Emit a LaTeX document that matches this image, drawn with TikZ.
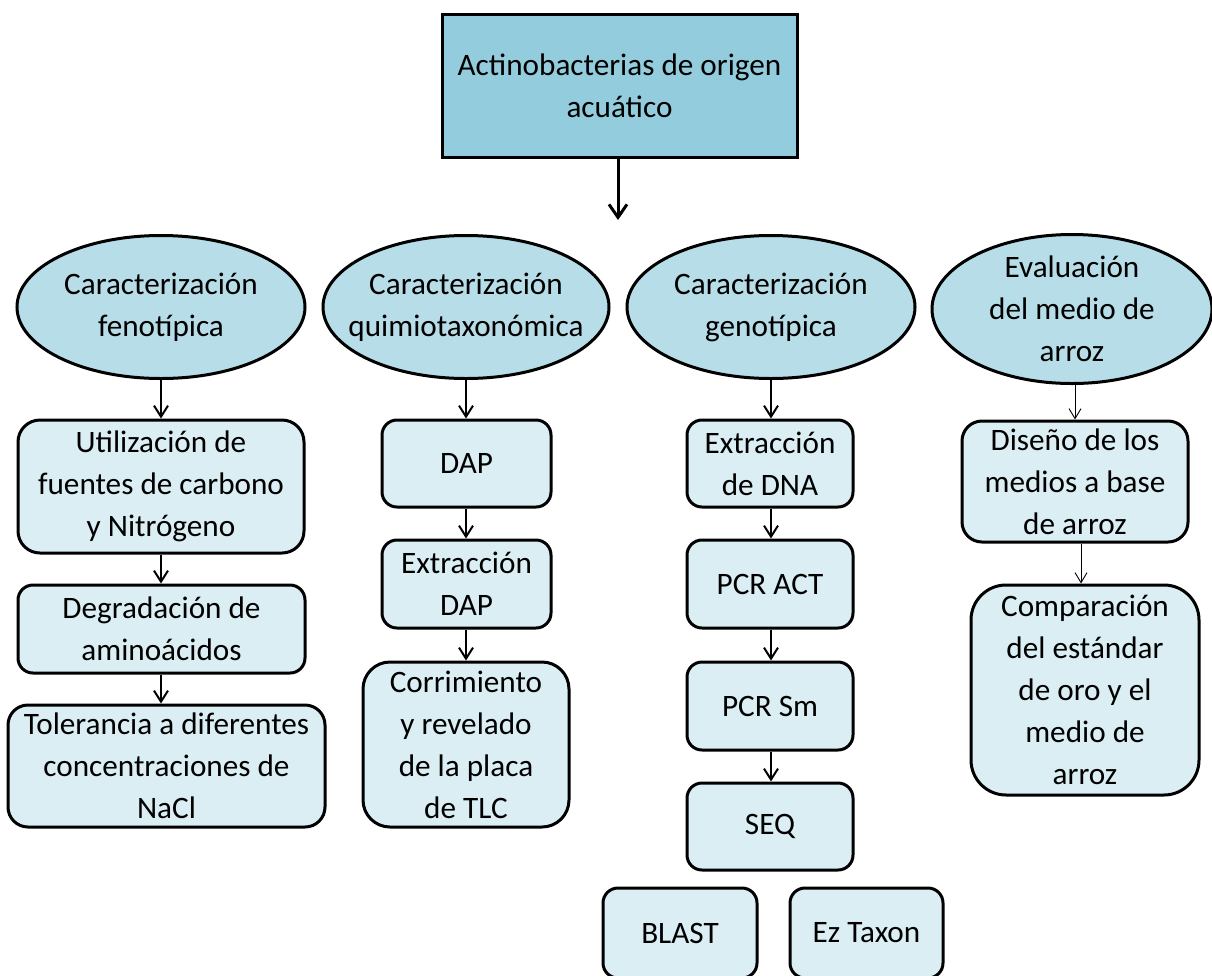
\documentclass[tikz,border=0pt]{standalone}
\usepackage{fontspec}
\setmainfont{Carlito}
\usepackage{tikz}
\usetikzlibrary{arrows.meta,shapes.geometric}
\usepackage{xcolor}
\definecolor{raizazul}{HTML}{93CDDD}
\definecolor{ovaloazul}{HTML}{B7DEE8}
\definecolor{cajaazul}{HTML}{DAEEF3}

\begin{document}
\begin{tikzpicture}[
  x=1pt,y=-1pt,font=\fontsize{31.2}{42}\selectfont,
  raiz/.style={draw=black, line width=3pt, fill=raizazul, inner sep=0pt,
    minimum width=355pt, minimum height=143pt, align=center},
  etapa/.style={ellipse, draw=black, line width=3pt, fill=ovaloazul,
    inner xsep=-30pt, inner ysep=-15pt, minimum width=288pt,
    minimum height=143pt, align=center},
  paso/.style={draw=black, line width=3pt, fill=cajaazul, inner sep=0pt,
    rounded corners=15pt, align=center},
  flecha/.style={-{Straight Barb[length=11pt,width=14pt]}, line width=2pt},
  fina/.style={-{Straight Barb[length=10pt,width=12pt]}, line width=0.9pt}
]
  \useasboundingbox (0,0) rectangle (1212,975);

  % origen
  \node[raiz] (origen) at (619.5,85.5) {Actinobacterias de origen\\acuático};
  \coordinate (reparto) at (618,220);
  \draw[flecha, line width=3pt, -{Straight Barb[length=13pt,width=18pt]}]
    (origen.south -| reparto) -- (reparto);

  % caracterizaciones
  \node[etapa] (feno) at (161,307) {Caracterización\\fenotípica};
  \node[etapa, minimum width=286pt] (quimio) at (466,307)
    {Caracterización\\quimiotaxonómica};
  \node[etapa] (geno) at (771,307) {Caracterización\\genotípica};
  \node[etapa, minimum width=280pt, minimum height=149pt] (evalua) at (1072,309)
    {Evaluación\\del medio de\\arroz};

  % fenotipica
  \node[paso, minimum width=286pt, minimum height=133pt, rounded corners=22pt]
    (util) at (161,486.5) {Utilización de\\fuentes de carbono\\y Nitrógeno};
  \node[paso, minimum width=287pt, minimum height=88pt]
    (degrada) at (161.5,629) {Degradación de\\aminoácidos};
  \node[paso, minimum width=317pt, minimum height=122pt, rounded corners=20pt]
    (tolera) at (166.5,766) {Tolerancia a diferentes\\concentraciones de\\NaCl};
  \draw[flecha] (feno.south) -- (feno.south |- util.north);
  \draw[flecha] (util.south -| feno.south) -- (feno.south |- degrada.north);
  \draw[flecha] (degrada.south -| feno.south) -- (feno.south |- tolera.north);

  % quimiotaxonomica
  \node[paso, minimum width=169pt, minimum height=87pt]
    (dap) at (466.5,463.5) {DAP};
  \node[paso, minimum width=169pt, minimum height=88pt]
    (extdap) at (466.5,584) {Extracción\\DAP};
  \node[paso, minimum width=206pt, minimum height=165pt, rounded corners=27pt]
    (corre) at (466,744.5) {Corrimiento\\y revelado\\de la placa\\de TLC};
  \draw[flecha] (quimio.south) -- (quimio.south |- dap.north);
  \draw[flecha] (dap.south -| quimio.south) -- (quimio.south |- extdap.north);
  \draw[flecha] (extdap.south -| quimio.south) -- (quimio.south |- corre.north);

  % genotipica
  \node[paso, minimum width=166pt, minimum height=87pt]
    (dna) at (770,463.5) {Extracción\\de DNA};
  \node[paso, minimum width=166pt, minimum height=88pt]
    (pcract) at (770,584) {PCR ACT};
  \node[paso, minimum width=166pt, minimum height=88pt]
    (pcrsm) at (770,706) {PCR Sm};
  \node[paso, minimum width=166pt, minimum height=87pt]
    (seq) at (770,826.5) {SEQ};
  \node[paso, minimum width=154pt, minimum height=90pt]
    (blast) at (680,933) {BLAST};
  \node[paso, minimum width=153pt, minimum height=90pt]
    (eztaxon) at (866.5,933) {Ez Taxon};
  \draw[flecha] (geno.south) -- (geno.south |- dna.north);
  \draw[flecha] (dna.south -| geno.south) -- (geno.south |- pcract.north);
  \draw[flecha] (pcract.south -| geno.south) -- (geno.south |- pcrsm.north);
  \draw[flecha] (pcrsm.south -| geno.south) -- (geno.south |- seq.north);

  % medio de arroz
  \node[paso, minimum width=226pt, minimum height=121pt, rounded corners=20pt]
    (diseno) at (1075,481.5) {Diseño de los\\medios a base\\de arroz};
  \node[paso, minimum width=228pt, minimum height=210pt, rounded corners=35pt]
    (compara) at (1085,690)
    {Comparación\\del estándar\\de oro y el\\medio de\\arroz};
  \coordinate (bajada) at (1081,0);
  \draw[fina] (diseno.north |- evalua.south) -- (diseno.north);
  \draw[fina] (diseno.south -| bajada) -- (compara.north -| bajada);
\end{tikzpicture}
\end{document}
